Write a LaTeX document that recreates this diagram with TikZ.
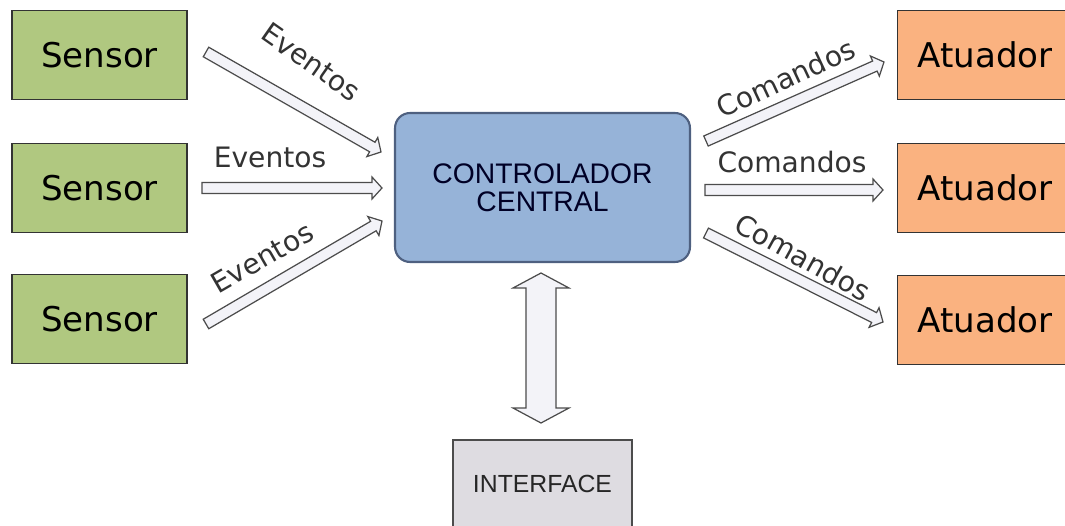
\documentclass[tikz,border=0pt]{standalone}
\usepackage{fontspec}
\setmainfont{DejaVu Sans}
\newfontfamily\arialfont{Liberation Sans}
\usepackage{tikz}
\usetikzlibrary{calc}

\definecolor{sensorgreen}{RGB}{176,200,128}
\definecolor{atuadororange}{RGB}{250,178,128}
\definecolor{ctrlblue}{RGB}{150,179,216}
\definecolor{ctrlborder}{RGB}{78,96,128}
\definecolor{ifacegray}{RGB}{222,220,225}
\definecolor{arrowfill}{RGB}{243,243,248}

\tikzset{
  box/.style={draw=black!80, line width=0.9pt, minimum width=3.5cm, minimum height=1.78cm, inner sep=0pt},
  sensorbox/.style={box, fill=sensorgreen, font=\fontsize{19.4}{23}\selectfont},
  atuadorbox/.style={box, fill=atuadororange, font=\fontsize{19.4}{23}\selectfont},
  label/.style={inner sep=0pt, font=\fontsize{16}{19}\selectfont, text=black!80},
  fatline/.style={draw=black!70, fill=arrowfill, line width=0.7pt, line join=miter}
}

% fat arrow with one head: #1 tail, #2 tip
\newcommand{\fatarrow}[2]{%
  \coordinate (fab) at ($(#2)!0.2cm!(#1)$);
  \draw[fatline] ($(#1)!0.11cm!90:(#2)$) -- ($(fab)!0.11cm!90:(#2)$) -- ($(fab)!0.22cm!90:(#2)$)
    -- (#2) -- ($(fab)!0.22cm!-90:(#2)$) -- ($(fab)!0.11cm!-90:(#2)$) -- ($(#1)!0.11cm!-90:(#2)$) -- cycle;
}
% fat arrow with two heads
\newcommand{\dblfatarrow}[2]{%
  \coordinate (fha) at ($(#1)!0.3cm!(#2)$);
  \coordinate (fhb) at ($(#2)!0.3cm!(#1)$);
  \draw[fatline] (#1) -- ($(fha)!0.56cm!90:(#2)$) -- ($(fha)!0.3cm!90:(#2)$) -- ($(fhb)!0.3cm!90:(#2)$)
    -- ($(fhb)!0.56cm!90:(#2)$) -- (#2) -- ($(fhb)!0.56cm!-90:(#2)$) -- ($(fhb)!0.3cm!-90:(#2)$)
    -- ($(fha)!0.3cm!-90:(#2)$) -- ($(fha)!0.56cm!-90:(#2)$) -- cycle;
}

\begin{document}
\begin{tikzpicture}[x=0.02cm, y=-0.02cm]
        \useasboundingbox (0,0) rectangle (1065,526);
        \clip (0,0) rectangle (1065,526);
        \fill[white] (0,0) rectangle (1065,526);

        % Sensors
        \node[sensorbox] (S1) at (99.5,55) {Sensor};
        \node[sensorbox] (S2) at (99.5,188) {Sensor};
        \node[sensorbox] (S3) at (99.5,319) {Sensor};

        % Atuadores
        \node[atuadorbox] (A1) at (985,55) {Atuador};
        \node[atuadorbox] (A2) at (985,188) {Atuador};
        \node[atuadorbox] (A3) at (985,320) {Atuador};

        % Controller and interface
        \node[draw=ctrlborder, line width=1.2pt, fill=ctrlblue, rounded corners=0.3cm,
              minimum width=5.9cm, minimum height=2.98cm, align=center, text=black!85!blue,
              font=\arialfont\fontsize{16.1}{16}\selectfont] (C) at (542.5,187.5) {CONTROLADOR\\CENTRAL};
        \node[draw=black!70, line width=0.9pt, fill=ifacegray, minimum width=3.58cm, minimum height=1.76cm,
              text=black!85, font=\arialfont\fontsize{14.1}{16}\selectfont] (I) at (542.5,484) {INTERFACE};

        % Arrow end points
        \coordinate (e1a) at (206,52);  \coordinate (e1b) at (381,152);
        \coordinate (e2a) at (202,188); \coordinate (e2b) at (382,188);
        \coordinate (e3a) at (206,324); \coordinate (e3b) at (382,221);
        \coordinate (c1a) at (706,141); \coordinate (c1b) at (884,62);
        \coordinate (c2a) at (705,190); \coordinate (c2b) at (883,190);
        \coordinate (c3a) at (706,233); \coordinate (c3b) at (883,322);
        \coordinate (ia) at (541,273);  \coordinate (ib) at (541,423);

        \fatarrow{e1a}{e1b}
        \fatarrow{e2a}{e2b}
        \fatarrow{e3a}{e3b}
        \fatarrow{c1a}{c1b}
        \fatarrow{c2a}{c2b}
        \fatarrow{c3a}{c3b}
        \dblfatarrow{ia}{ib}

        % Labels
        \node[label, rotate=-35] (L1) at (311,62) {Eventos};
        \node[label] (L2) at (270,157) {Eventos};
        \node[label, rotate=30] (L3) at (262,258) {Eventos};
        \node[label, rotate=25] (M1) at (786,78) {Comandos};
        \node[label] (M2) at (792,162) {Comandos};
        \node[label, rotate=-29] (M3) at (803,257) {Comandos};
      \end{tikzpicture}
\end{document}
